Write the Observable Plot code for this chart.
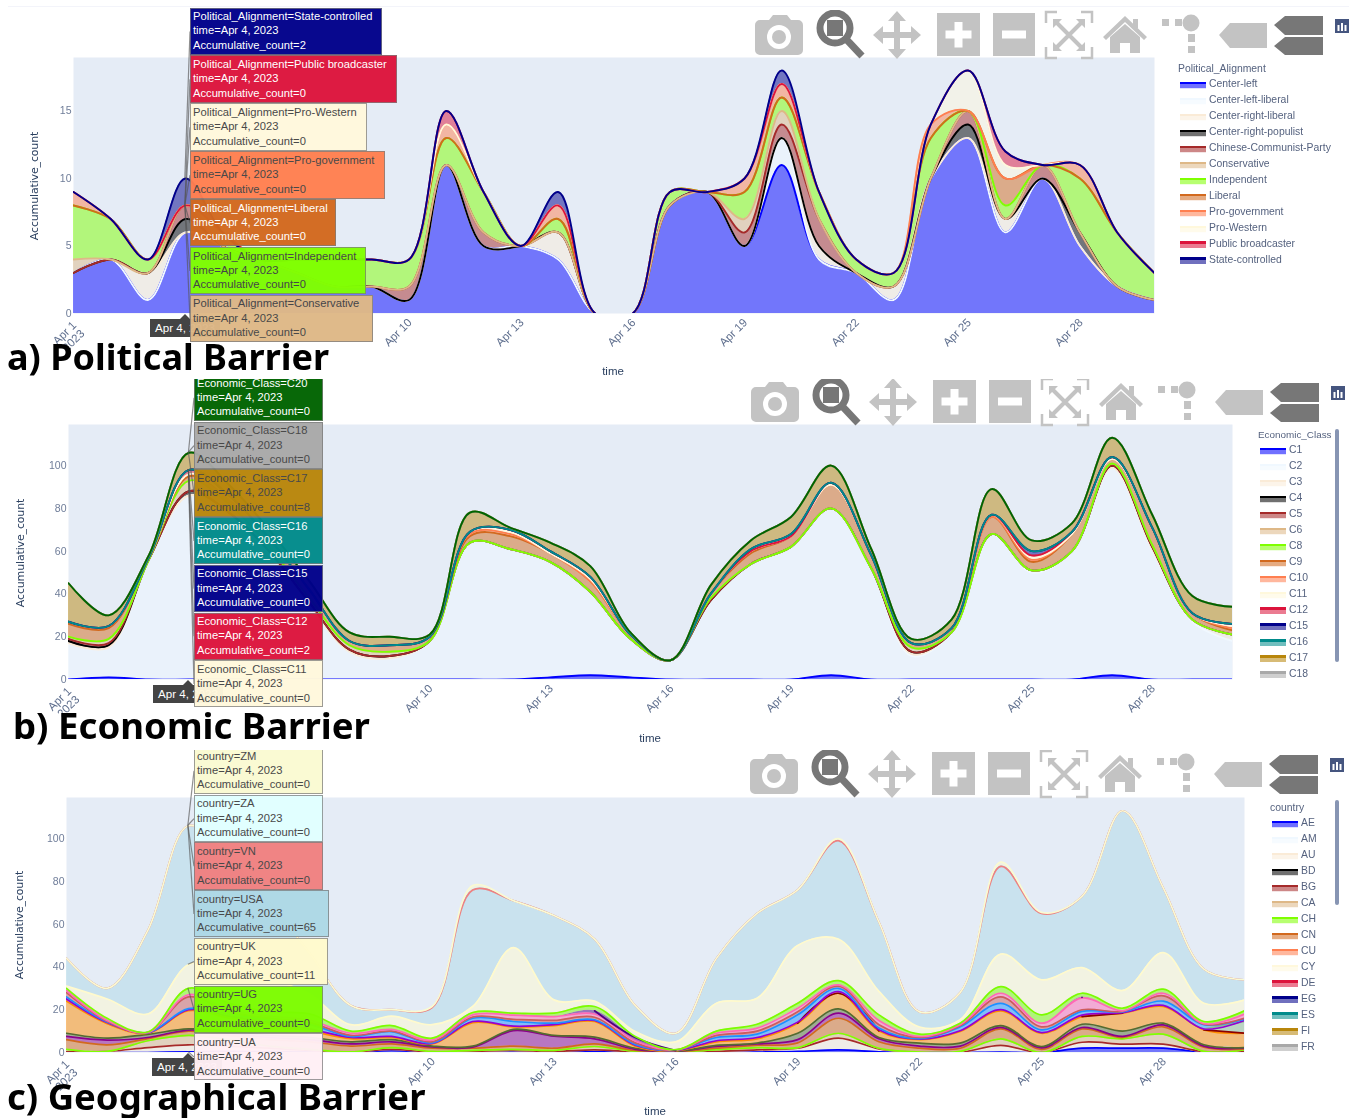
<!DOCTYPE html>
<html><head><meta charset="utf-8">
<script src="https://cdn.jsdelivr.net/npm/d3@7"></script>
<script src="https://cdn.jsdelivr.net/npm/@observablehq/plot@0.6"></script>
<style>
html,body{margin:0;padding:0;background:#fff;width:1349px;height:1118px;overflow:hidden}
#page{position:relative;width:1349px;height:1118px;font-family:"Liberation Sans",Arial,sans-serif;filter:blur(.35px)}
.panel{position:absolute;left:0;width:1349px;overflow:hidden}
.panel svg.plot{position:absolute;left:0;top:0}
.tip{position:absolute;box-sizing:border-box;font:11.2px/14.4px "Liberation Sans",Arial,sans-serif;padding:.5px 2px;white-space:nowrap;border:1px solid rgba(120,120,120,.75);opacity:.97}
.t{position:absolute;white-space:nowrap}
.title{position:absolute;font:700 36px "Noto Sans",sans-serif;color:#000;white-space:nowrap;transform-origin:left center;line-height:40px}
</style></head><body><div id="page"></div>
<script>
// ---------- shared ----------
const dayNumbers = d3.range(1, 31);
const dates = dayNumbers.map(d => new Date(Date.UTC(2023, 3, d)));
const tickDays = [10, 13, 16, 19, 22, 25, 28];
const hoverDate = "Apr 4, 2023";

// ---------- a) Political Barrier: daily counts per alignment ----------
const politicalNames = ["Center-left","Center-left-liberal","Center-right-liberal","Center-right-populist","Chinese-Communist-Party","Conservative","Independent","Liberal","Pro-government","Pro-Western","Public broadcaster","State-controlled"];
const politicalColors = ["blue","aliceblue","antiquewhite","black","brown","burlywood","chartreuse","chocolate","coral","cornsilk","crimson","darkblue"];
const centerLeft      = [3,4,1,6,5,4,3,2,2,1,11,5,5,4,0,0,8,9,5,11,4,3,1,10,13,6,10,5,2,1];
const centerLeftLib   = [0,0,0,0,0,0,0,0,0,0,0,0,0,0,0,0,0,0,0,2,0,0,0,0,0,0,0,0,0,0];
const centerRightLib  = [0,0,2,0,0,0,0,0,0,0,0,0,0,2,0,0,0,0,0,0,1,0,1,0,0,1,0,0,0,0];
const centerRightPop  = [0,0,0,1,0,0,0,0,0,0,0,0,0,0,0,0,0,0,0,0,0,0,0,0,1,0,0,1,0,0];
const chineseCP       = [0,0,0,1,0,0,0,0,0,1,0,1,0,0,0,0,0,0,1,1,2,0,0,0,1,0,1,0,0,0];
const conservative    = [1,0,0,0,0,0,0,0,0,0,0,0,0,0,0,0,0,0,1,1,0,0,0,0,0,0,0,0,0,0];
const independent     = [4,3,1,0,1,0,1,2,2,2,2,3,0,1,0,0,1,0,2,1,2,1,1,3,0,1,0,4,4,2];
const liberal         = [0,0,0,0,0,0,0,0,0,0,0,0,0,0,0,0,0,0,0,0,0,0,0,0,0,2,0,0,0,0];
const proGovernment   = [1,0,0,0,0,0,0,0,0,0,1,0,0,1,0,0,0,0,1,1,0,0,0,1,0,0,0,1,0,0];
const proWestern      = [0,0,0,0,0,0,0,0,0,0,0,0,0,0,0,0,0,0,0,0,0,0,0,0,3,1,0,0,0,0];
const publicBroadcast = [0,0,0,0,0,0,0,0,0,0,1,0,0,0,0,0,0,0,0,0,0,0,0,0,0,1,0,0,0,0];
const stateControlled = [0,0,0,2,0,0,0,0,0,0,0,0,0,1,0,0,0,0,0,1,0,0,0,0,0,0,0,0,0,0];
const politicalValues = [centerLeft,centerLeftLib,centerRightLib,centerRightPop,chineseCP,conservative,independent,liberal,proGovernment,proWestern,publicBroadcast,stateControlled];

// ---------- b) Economic Barrier: daily counts per class ----------
const economicNames = ["C1","C2","C3","C4","C5","C6","C8","C9","C10","C11","C12","C15","C16","C17","C18","C20"];
const economicColors = ["blue","aliceblue","antiquewhite","black","brown","burlywood","chartreuse","chocolate","coral","cornsilk","crimson","darkblue","darkcyan","darkgoldenrod","darkgray","darkgreen"];
const c1  = [0,1,0,0,0,0,0,0,0,0,0,0,1,2,1,0,0,0,0,2,0,0,0,0,0,0,2,0,0,0];
const c2  = [17,14,56,86,77,59,35,13,10,18,64,61,54,39,18,9,37,54,62,78,52,11,22,68,50,60,97,61,27,18];
const c3  = [0,0,0,0,0,0,0,0,0,0,0,0,0,0,0,0,0,0,0,0,0,1,0,0,1,0,0,0,1,3];
const c4  = [1,1,0,2,1,1,1,1,1,0,0,0,0,0,0,0,0,0,0,0,0,1,0,0,0,0,1,1,0,0];
const c5  = [1,1,0,0,0,0,0,0,0,0,0,0,0,0,0,0,0,0,0,0,0,0,0,0,0,0,0,0,0,0];
const c6  = [1,2,0,5,4,2,2,2,2,0,0,0,0,0,0,0,1,0,0,0,0,2,0,0,0,0,1,1,0,0];
const c8  = [0,0,0,0,0,0,0,0,0,0,0,0,0,0,0,0,0,0,0,0,0,0,0,0,0,0,0,0,0,0];
const c9  = [6,5,1,2,3,4,4,2,3,2,3,6,4,5,2,0,2,5,5,11,6,2,2,8,4,8,2,8,3,2];
const c10 = [1,1,0,1,0,0,0,0,0,0,1,1,0,0,0,0,0,1,0,0,0,0,0,0,1,0,0,0,0,1];
const c11 = [0,0,0,0,0,0,0,0,0,0,1,1,0,1,0,0,0,0,0,0,0,0,0,1,1,0,0,0,0,1];
const c12 = [0,0,0,2,1,0,0,0,0,0,0,1,1,1,0,0,0,0,0,1,0,0,0,0,1,1,1,0,0,1];
const c15 = [0,0,0,0,0,0,0,0,0,0,0,0,0,0,0,0,0,1,1,0,0,0,0,0,2,0,0,0,0,0];
const c16 = [0,0,0,0,0,0,0,0,0,0,0,0,0,0,0,0,0,0,0,0,0,0,0,0,0,0,0,0,0,0];
const c17 = [18,5,1,8,5,4,4,4,4,1,9,1,4,5,1,0,4,4,8,8,3,2,4,12,5,4,9,6,8,8];
const c18 = [0,0,0,0,0,0,0,0,0,0,0,0,0,0,0,0,0,0,0,0,0,0,0,0,0,0,0,0,0,0];
const c20 = [0,0,0,0,0,0,0,0,0,0,0,0,0,0,0,0,0,0,0,0,0,0,0,0,0,0,0,0,0,0];
const economicValues = [c1,c2,c3,c4,c5,c6,c8,c9,c10,c11,c12,c15,c16,c17,c18,c20];

// ---------- c) Geographical Barrier: stack tops read per layer (null = layer absent that day) ----------
// Layers above FR are off the legend's visible part, so they are named by their colour.
const countryLegend = ["AE","AM","AU","BD","BG","CA","CH","CN","CU","CY","DE","EG","ES","FI","FR"];
const countryLegendColors = ["blue","aliceblue","antiquewhite","black","brown","burlywood","chartreuse","chocolate","coral","cornsilk","crimson","darkblue","darkcyan","darkgoldenrod","darkgray"];
const topAE = [0,0,0,.3,.5,.3,.2,0,1,0,0,.2,0,.5,0,0,0,.2,.5,1.2,.3,0,0,.2,0,2,2,2,.2,0];
const topAU = [.3,.5,2.3,3.6,3,2,1,.2,1.5,.2,.5,1,.5,1.2,.3,.1,.5,1.2,2,6.7,1.7,.1,.1,3.3,0,4.8,3.9,3.9,.4,.7];
const topCH = [1.5,.5,5.5,8,6,3,1.5,.3,2.3,.5,1,1.5,1,2.8,.6,.3,1.3,2.3,2.3,9,2,.2,.5,6.4,0,7.5,6.4,8.6,.5,1.2];
const topCN = [6,3.6,6.5,10,8,6,5,3,4,2,2,3,2,4,1,.4,2,3.4,4.5,16,5,2,2,11,1.5,11,7,12,2.5,1.6];
const topMagenta = [7.5,5.8,7,10.5,9,7,6,4,5,2.6,2.5,10.2,7.6,6.4,1.5,.5,2.8,4,6,18.4,6.4,3,3,11.7,2.2,11.7,7.5,12.9,3,2];
const topOlive = [9,6.7,8.5,11,10,8,7,5,6,3,3,10.8,8,7.2,2,.6,3.3,4.4,9,20.4,7,4.4,4.4,12.6,2.8,13.2,10,13.7,3.6,2.3];
const topOrange = [24,13.5,9,19.5,16,13,10,6.5,7,4,14,12,12.6,14.5,3,.8,5,6.4,13.7,27.7,10.1,6,9.8,19.5,9,16.8,18.4,21.5,10.6,9];
const topDarkred = [null,null,null,null,null,null,null,null,null,null,null,null,null,null,null,null,null,null,13.7,27.7,10.1,null,null,null,null,16.8,18.4,null,10.6,9];
const topSeagreen = [null,null,null,null,null,null,null,null,null,null,null,null,null,null,null,null,null,null,null,null,null,null,null,null,null,null,null,null,11,14.5];
const topViolet = [25,14,9.2,20,17,14,11,7,7.5,4.2,14.5,12.3,13,15,3.4,1,5.5,7,14.2,28.5,10.6,6.2,10.2,20,9.3,17.5,18.6,22,11,15];
const topDodger = [26,14.3,9.3,20.5,18,15,13,7.5,9.8,4.5,16,14.5,13.7,15.3,3.8,1.1,7,8.6,17.6,30,11.4,6.5,12,23,10.6,19.2,19,24,13,15.5];
const topIndianred = [28,14.6,9.35,26,19,16,14,8,10,5,16.6,15.5,15,16.5,4.5,1.15,8,10,19,31,13,7,12.5,26,12,20,19.2,26.5,13.2,16];
const topPink = [29,15,9.4,27,20,17,15,9,10.8,5.8,17.6,17.5,16.8,18,5.5,1.2,9,11.4,20.7,31.6,15,7.5,13,27.7,13.7,25.5,19.5,27.7,13.5,18];
const topIndigo = [null,null,null,null,null,null,null,null,null,null,null,null,null,19.5,7,.9,null,null,null,null,null,null,null,null,null,25.8,null,null,null,null];
const topUG = [30,16,9.6,30,23,19,18,10,12.6,6.7,18.7,18.4,18.4,21.5,7.5,1.3,10,13.2,23,33.6,17.6,8.6,13.7,30.8,17.6,27.7,20.7,29.6,14.5,19.5];
const topUK = [31,25,18,41,42,35,27,13,17,13,21.5,49,24.6,24,9.8,5,23,25.4,50,53,28.6,11.9,15.3,46,34,39.7,29,46.7,23,24.6];
const topUSA = [44,30,57,106,91,70,46,22,20,21,76,71,64,53,22,9,44,65,76,99,61,19,28,87,65,73,113,77,39,34];
const topVN = topUSA;
const topZM = [44,30,57,106,91,70,46,22,20,21.5,78,71,64,53,22,9,44,65,76,100,61,19,28,89,65.5,73,113,77,39,34];
const geoNames = ["AE","AU","BG","CA","CH","CN","darkmagenta","darkolivegreen","darkorange","darkred","darkseagreen","darkviolet","dodgerblue","indianred","hotpink","indigo","UG","UK","USA","VN","ZM"];
const geoColors = ["blue","antiquewhite","brown","burlywood","chartreuse","chocolate","darkmagenta","darkolivegreen","darkorange","darkred","darkseagreen","darkviolet","dodgerblue","indianred","hotpink","indigo","lawngreen","lemonchiffon","lightblue","lightcoral","lightgoldenrodyellow"];
const geoTops = [topAE,topAU,topAU,topCH,topCH,topCN,topMagenta,topOlive,topOrange,topDarkred,topSeagreen,topViolet,topDodger,topIndianred,topPink,topIndigo,topUG,topUK,topUSA,topVN,topZM];

// ---------- hover labels ----------
const politicalTips = [["State-controlled",2],["Public broadcaster",0],["Pro-Western",0],["Pro-government",0],["Liberal",0],["Independent",0],["Conservative",0]];
const economicTips = [["C20",0],["C18",0],["C17",8],["C16",0],["C15",0],["C12",2],["C11",0]];
const geoTips = [["ZM",0],["ZA",0],["VN",0],["USA",65],["UK",11],["UG",0],["UA",0]];
const politicalTipStyle = {bg:["darkblue","crimson","cornsilk","coral","chocolate","chartreuse","burlywood"],fg:["#fff","#fff","#444","#444","#fff","#444","#444"],w:[192,207,177,195,146,176,183]};
const economicTipStyle = {bg:["darkgreen","darkgray","darkgoldenrod","darkcyan","darkblue","crimson","cornsilk"],fg:["#fff","#444","#444","#fff","#fff","#fff","#444"],w:[129,129,129,129,129,129,129]};
const geoTipStyle = {bg:["lightgoldenrodyellow","lightcyan","lightcoral","lightblue","lemonchiffon","lawngreen","lavenderblush"],fg:["#444","#444","#444","#444","#444","#444","#444"],w:[129,129,129,135,134,129,129]};

// ---------- build rows ----------
function rowsFromCounts(names, values){
  const rows = []; const cum = dates.map(()=>0);
  names.forEach((n,k)=>dates.forEach((t,i)=>{
    const y1 = cum[i]; const y2 = y1 + values[k][i]; cum[i] = y2;
    rows.push({time:t, series:n, y1, y2, lineY:y2});
  }));
  return rows;
}
function rowsFromTops(names, tops){
  const rows = []; const cum = dates.map(()=>0);
  names.forEach((n,k)=>dates.forEach((t,i)=>{
    const raw = tops[k][i]; const y1 = cum[i]; const y2 = raw==null ? y1 : raw; cum[i] = y2;
    rows.push({time:t, series:n, y1, y2, lineY:raw});
  }));
  return rows;
}

// ---------- drawing helpers ----------
const page = document.getElementById("page");
function text(parent,x,y,str,css){const e=document.createElement("div");e.className="t";e.textContent=str;e.style.left=x+"px";e.style.top=y+"px";Object.assign(e.style,css||{});parent.appendChild(e);return e;}

function toolbar(parent,dx,dy){
  const g="#c3c3c3",k="#777";
  const ns=document.createElement("div");ns.style.cssText=`position:absolute;left:${dx}px;top:${dy}px;width:600px;height:60px`;
  ns.innerHTML=`<svg width="600" height="60">
  <path fill="${g}" d="M5 10h9l4-5h14l4 5h7a5 5 0 0 1 5 5v25a5 5 0 0 1-5 5H5a5 5 0 0 1-5-5V15a5 5 0 0 1 5-5z"/><circle cx="24" cy="27" r="12" fill="#fff"/><circle cx="24" cy="27" r="7" fill="${g}"/>
  <circle cx="80" cy="18" r="15" fill="#fff" stroke="${k}" stroke-width="7"/><rect x="72" y="10" width="16" height="16" fill="${k}"/><path d="M91 29L107 46" stroke="${k}" stroke-width="7"/>
  <path fill="${g}" d="M142 1l9 10h-6v11h11v-6l10 9-10 9v-6h-11v11h6l-9 10-9-10h6V28h-11v6l-10-9 10-9v6h11V11h-6z"/>
  <rect x="182" y="3" width="43" height="43" fill="${g}"/><path fill="#fff" d="M199.500 12h8v8.500h9v8h-9v9h-8v-9h-9v-8h9z"/>
  <rect x="238" y="3" width="42" height="43" fill="${g}"/><rect x="247" y="20.500" width="24" height="8" fill="#fff"/>
  <path fill="none" stroke="${g}" stroke-width="2.500" d="M302 2h-11v11M326 2h11v11M302 48h-11v-11M326 48h11v-11"/><path stroke="${g}" stroke-width="4" d="M302 13L326 37M326 13L302 37"/><path fill="${g}" d="M298 9h9l-9 9zM330 9h-9l9 9zM298 41h9l-9-9zM330 41h-9l9-9z"/>
  <path fill="${g}" d="M370 6l22 21-3 3-19-18-19 18-3-3zM355 27l15-13 15 13v16h-10v-10h-10v10h-10z"/><rect x="378" y="9" width="5" height="9" fill="${g}"/>
  <rect x="407" y="9" width="7" height="7" fill="${g}"/><rect x="420" y="9" width="7" height="7" fill="${g}"/><circle cx="436" cy="13" r="8.500" fill="${g}"/><rect x="433" y="24" width="7" height="8" fill="${g}"/><rect x="433" y="36" width="7" height="7" fill="${g}"/>
  <path fill="${g}" d="M464 25l11-12h37v25h-37z"/>
  <path fill="${k}" d="M519 15l11-9h38v19h-38zM519 36l11-9h38v18h-38z"/>
  <rect x="580" y="9" width="14" height="14" fill="#45557f"/><path fill="#fff" d="M582.500 15h2v6h-2zM586 13h2v8h-2zM589.500 15h2v6h-2z"/>
  </svg>`;
  parent.appendChild(ns);
}

function panel(cfg){
  const p=document.createElement("div");p.className="panel";p.style.top=cfg.top+"px";p.style.height=cfg.height+"px";page.appendChild(p);
  const curve="catmull-rom";
  const tickDates=tickDays.map(d=>dates[d-1]);
  const axisStyle={tickRotate:-45,tickSize:0,tickPadding:5,label:null,fontSize:11.5,color:"#5f6f8e"};
  const chart=Plot.plot({
    width:1349,height:cfg.height,
    marginTop:cfg.plotTop-cfg.top,marginBottom:cfg.top+cfg.height-cfg.plotBottom,
    marginLeft:cfg.plotLeft,marginRight:1349-cfg.plotRight,
    x:{type:"utc",domain:[dates[0],dates[29]]},
    y:{domain:[0,cfg.yMax]},
    color:{type:"ordinal",domain:cfg.names,range:cfg.colors},
    style:{background:"transparent",fontFamily:"'Liberation Sans',Arial,sans-serif"},
    marks:[
      Plot.frame({fill:"#e5ecf6",stroke:null}),
      Plot.areaY(cfg.rows,{x:"time",y1:"y1",y2:"y2",z:"series",fill:"series",fillOpacity:.5,curve,clip:"frame"}),
      Plot.line(cfg.rows,{x:"time",y:"lineY",z:"series",stroke:"series",strokeWidth:cfg.lineWidth,curve,clip:"frame"}),
      Plot.axisX({...axisStyle,ticks:tickDates,dx:1,dy:2,tickFormat:d=>d3.utcFormat("%b %-d")(d)}),
      Plot.axisX({...axisStyle,ticks:[dates[0]],dx:5,dy:9,tickFormat:d=>d3.utcFormat("%b %-d")(d)+"\n2023"}),
      Plot.axisY({ticks:cfg.yTicks,tickSize:0,tickPadding:2,label:null,fontSize:10.5,color:"#6f7d99"})
    ]
  });
  chart.classList.add("plot");
  chart.style.maxWidth="none";
  p.appendChild(chart);
  const xs=chart.scale("x"),ys=chart.scale("y");

  // axis titles
  text(p,cfg.timeX,cfg.timeY-cfg.top,"time",{font:"11.5px 'Liberation Sans'",color:"#2a3f5f",transform:"translateX(-50%)"});
  text(p,cfg.yTitleX,(cfg.plotTop+cfg.plotBottom)/2-cfg.top+cfg.yTitleShift,"Accumulative_count",{font:"11px 'DejaVu Sans'",color:"#2a3f5f",letterSpacing:"-.15px",transform:"translate(-50%,-50%) rotate(-90deg)"});

  // legend
  text(p,cfg.legendX-2,cfg.legendTop-cfg.top-5,cfg.legendTitle,{font:cfg.legendTitleSize+"px 'Liberation Sans'",color:"#55627f"});
  cfg.legendNames.forEach((n,i)=>{
    const yy=cfg.legendTop-cfg.top+1+15.950*(i+1);
    const col=cfg.legendColors[i];
    const s=document.createElement("div");
    s.style.cssText=`position:absolute;left:${cfg.legendX}px;top:${yy-3}px;width:26px;height:2.500px;background:${col};`;
    const f=document.createElement("div");
    f.style.cssText=`position:absolute;left:${cfg.legendX}px;top:${yy-.500}px;width:26px;height:4px;background:${col};opacity:.5;`;
    const l=document.createElement("div");l.style.cssText=`position:absolute;left:${cfg.legendX}px;top:${yy-3}px;width:26px;height:7px;background:${col};opacity:.12;`;
    p.append(l,f,s);
    text(p,cfg.legendX+29,yy-6.500,n,{font:"10.4px 'Liberation Sans'",color:"#55627f"});
  });
  if(cfg.scroll){const sb=document.createElement("div");sb.style.cssText=`position:absolute;left:1335px;top:${cfg.scroll[0]-cfg.top}px;width:4px;height:${cfg.scroll[1]-cfg.scroll[0]}px;background:#8795b3;border-radius:2px`;p.appendChild(sb);}

  toolbar(p,cfg.toolX,cfg.toolY-cfg.top);

  // hover: date box under the labels
  const hx=xs.apply(dates[3]);
  text(p,cfg.hoverX,cfg.hoverY-cfg.top,hoverDate,{background:"#444",color:"#fff",font:"11.6px 'Liberation Sans'",padding:"2px 5px",height:"14px",lineHeight:"14px"});
  const arrow=document.createElement("div");arrow.style.cssText=`position:absolute;left:${hx-5}px;top:${cfg.hoverY-cfg.top-5}px;border:5px solid transparent;border-top:0;border-bottom:5px solid #444`;p.appendChild(arrow);

  // hover: leader lines from each hovered stack top to its label
  const tops=cfg.tips.map(([n])=>{const r=cfg.rows.find(r=>r.series===cfg.tipSeries(n)&&+r.time===+dates[3]);return r?r.y2:0;});
  const lead=document.createElementNS("http://www.w3.org/2000/svg","svg");
  lead.setAttribute("width",1349);lead.setAttribute("height",cfg.height);lead.style.cssText="position:absolute;left:0;top:0;pointer-events:none";
  cfg.tips.forEach(([n],i)=>{
    const yTip=cfg.tipTop-cfg.top+cfg.tipStep*i+cfg.tipStep/2;
    const ln=document.createElementNS("http://www.w3.org/2000/svg","path");
    ln.setAttribute("d",`M${hx},${ys.apply(tops[i])}L${cfg.tipLeft},${yTip}`);
    ln.setAttribute("stroke","#555");ln.setAttribute("stroke-opacity",".65");ln.setAttribute("stroke-width","1.2");ln.setAttribute("fill","none");
    lead.appendChild(ln);
  });
  p.appendChild(lead);

  // hover labels
  cfg.tips.forEach(([n,v],i)=>{
    const d=document.createElement("div");d.className="tip";
    d.style.left=cfg.tipLeft+"px";d.style.top=(cfg.tipTop-cfg.top+cfg.tipStep*i)+"px";
    d.style.width=cfg.tipStyle.w[i]+"px";d.style.height=(cfg.tipStep-.500)+"px";
    d.style.background=cfg.tipStyle.bg[i];d.style.color=cfg.tipStyle.fg[i];
    d.innerHTML=`${cfg.tipKey}=${n}<br>time=${hoverDate}<br>Accumulative_count=${v}`;
    p.appendChild(d);
  });
  return p;
}

panel({top:0,height:379,plotTop:57,plotBottom:313,plotLeft:73,plotRight:1154,yMax:18.96,yTicks:[0,5,10,15],lineWidth:1.9,
  names:politicalNames,colors:politicalColors,rows:rowsFromCounts(politicalNames,politicalValues),
  timeX:613,timeY:365,yTitleX:34,yTitleShift:1,legendX:1180,legendTop:68,legendTitle:"Political_Alignment",legendTitleSize:10.4,legendNames:politicalNames,legendColors:politicalColors,
  toolX:755,toolY:10,hoverX:150,hoverY:319,tips:politicalTips,tipStyle:politicalTipStyle,tipKey:"Political_Alignment",tipLeft:190,tipTop:7.500,tipStep:47.900,tipSeries:n=>n});
panel({top:379,height:371,plotTop:424,plotBottom:679,plotLeft:68,plotRight:1232,yMax:119.2,yTicks:[0,20,40,60,80,100],lineWidth:1.9,
  names:economicNames,colors:economicColors,rows:rowsFromCounts(economicNames,economicValues),
  timeX:650,timeY:732,yTitleX:20,yTitleShift:1,legendX:1260,legendTop:434,legendTitle:"Economic_Class",legendTitleSize:9.9,legendNames:economicNames.slice(0,15),legendColors:economicColors.slice(0,15),scroll:[429,662],
  toolX:751,toolY:377,hoverX:153,hoverY:685,tips:economicTips,tipStyle:economicTipStyle,tipKey:"Economic_Class",tipLeft:194,tipTop:374,tipStep:47.700,tipSeries:n=>n});
panel({top:750,height:368,plotTop:797,plotBottom:1052,plotLeft:66,plotRight:1244,yMax:119.2,yTicks:[0,20,40,60,80,100],lineWidth:1.7,
  names:geoNames,colors:geoColors,rows:rowsFromTops(geoNames,geoTops),
  timeX:655,timeY:1105,yTitleX:19,yTitleShift:0,legendX:1272,legendTop:807,legendTitle:"country",legendTitleSize:10.4,legendNames:countryLegend,legendColors:countryLegendColors,scroll:[800,905],
  toolX:750,toolY:749,hoverX:152,hoverY:1058,tips:geoTips,tipStyle:geoTipStyle,tipKey:"country",tipLeft:194,tipTop:747,tipStep:47.700,tipSeries:n=>n==="ZA"?"VN":n==="UA"?"AE":n});

// panel titles
function title(str,x,y,sx){const e=document.createElement("div");e.className="title";e.textContent=str;e.style.left=x+"px";e.style.top=y+"px";e.style.transform=`scaleX(${sx})`;page.appendChild(e);}
title("a) Political Barrier",7,337,1);
title("b) Economic Barrier",13,706,1.016);
title("c) Geographical Barrier",7,1077,1.013);

// faint top rule of the first image
const rule=document.createElement("div");rule.style.cssText="position:absolute;left:8px;top:6px;width:1341px;height:1px;background:#f3f4fa";page.appendChild(rule);
</script></body></html>
